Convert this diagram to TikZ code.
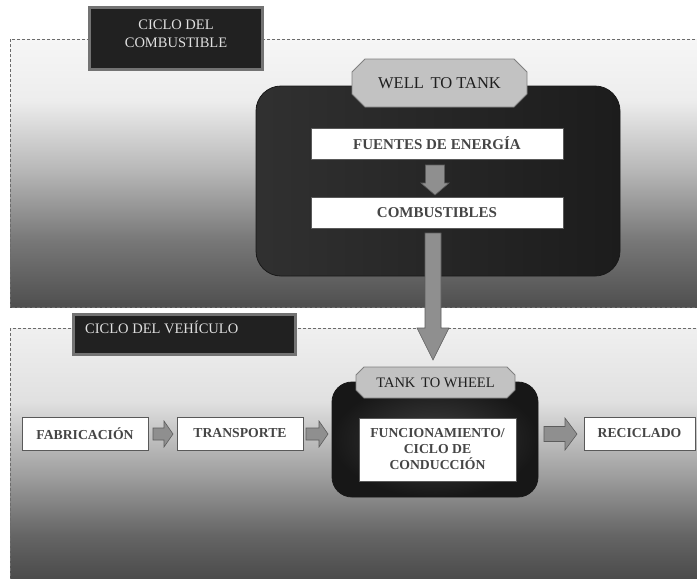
\documentclass[tikz,border=0pt]{standalone}
\usepackage{fontspec}
\setmainfont{Liberation Serif}
\usetikzlibrary{calc}
\pgfdeclarelayer{back}
\pgfdeclarelayer{mid}
\pgfdeclarelayer{upper}
\pgfsetlayers{back,mid,upper,main}

\definecolor{tpa}{gray}{0.965}
\definecolor{tpb}{gray}{0.93}
\definecolor{tpc}{gray}{0.72}
\definecolor{tpd}{gray}{0.47}
\definecolor{tpe}{gray}{0.31}
\definecolor{bpa}{gray}{0.94}
\definecolor{bpb}{gray}{0.88}
\definecolor{bpc}{gray}{0.63}
\definecolor{bpd}{gray}{0.40}
\definecolor{bpe}{gray}{0.28}
\pgfdeclareverticalshading{toppanel}{100bp}{color(0bp)=(tpe); color(25bp)=(tpe); color(37.5bp)=(tpd); color(50.6bp)=(tpc); color(63.6bp)=(tpb); color(75bp)=(tpa); color(100bp)=(tpa)}
\pgfdeclareverticalshading{botpanel}{100bp}{color(0bp)=(bpe); color(25bp)=(bpe); color(34.8bp)=(bpd); color(46.7bp)=(bpc); color(60.7bp)=(bpb); color(75bp)=(bpa); color(100bp)=(bpa)}

\definecolor{dashc}{gray}{0.42}
\definecolor{tagfill}{gray}{0.13}
\definecolor{tagborder}{gray}{0.45}
\definecolor{tagtextc}{gray}{0.88}
\definecolor{wtl}{gray}{0.19}
\definecolor{wtr}{gray}{0.11}
\definecolor{ttin}{gray}{0.25}
\definecolor{ttout}{gray}{0.09}
\definecolor{boxborder}{gray}{0.35}
\definecolor{boxtext}{gray}{0.27}
\definecolor{octfill}{gray}{0.76}
\definecolor{octborder}{gray}{0.50}
\definecolor{arrowfill}{gray}{0.56}
\definecolor{arrowborder}{gray}{0.36}

\tikzset{
  panel/.style={draw=dashc, line width=1pt, dash pattern=on 3pt off 2pt},
  tagbox/.style={draw=tagborder, line width=3pt, fill=tagfill, inner sep=0pt, outer sep=0pt},
  tagtext/.style={text=tagtextc, font=\fontsize{14.5}{18.5}\selectfont, inner sep=0pt, align=center},
  darkbox/.style={draw=black!90, line width=0.8pt, inner sep=0pt, outer sep=0pt},
  whitebox/.style={draw=boxborder, line width=0.8pt, fill=white, inner sep=0pt, outer sep=0pt,
    text=boxtext, align=center},
  bigtxt/.style={font=\bfseries\fontsize{15}{18}\selectfont},
  smalltxt/.style={font=\bfseries\fontsize{13.7}{16}\selectfont},
  octo/.style={fill=octfill, draw=octborder, line width=0.8pt},
  octlabel/.style={inner sep=0pt, outer sep=0pt, text=black!88},
  blockarrow/.style={fill=arrowfill, draw=arrowborder, line width=0.6pt},
}

% octagon (chamfered rectangle) around a named node
\newcommand\octaround[2]{%
  \path[octo] ($(#1.north west)+(#2,0)$) -- ($(#1.north east)+(-#2,0)$)
    -- ($(#1.north east)+(0,#2)$) -- ($(#1.south east)+(0,-#2)$)
    -- ($(#1.south east)+(-#2,0)$) -- ($(#1.south west)+(#2,0)$)
    -- ($(#1.south west)+(0,-#2)$) -- ($(#1.north west)+(0,#2)$) -- cycle;}
% horizontal block arrow: from #1 to #2, shaft half #3, head half #4, head length #5
\newcommand\hblock[5]{%
  \path[blockarrow] let \p1=#1, \p2=#2 in
    (\x1,\y1+#3) -- (\x2-#5,\y1+#3) -- (\x2-#5,\y1+#4) -- (\x2,\y1)
    -- (\x2-#5,\y1-#4) -- (\x2-#5,\y1-#3) -- (\x1,\y1-#3) -- cycle;}
% vertical (downward) block arrow
\newcommand\vblock[5]{%
  \path[blockarrow] let \p1=#1, \p2=#2 in
    (\x1-#3,\y1) -- (\x1+#3,\y1) -- (\x1+#3,\y2+#5) -- (\x1+#4,\y2+#5) -- (\x1,\y2)
    -- (\x1-#4,\y2+#5) -- (\x1-#3,\y2+#5) -- cycle;}

\begin{document}
\begin{tikzpicture}[x=1pt,y=-1pt]
\useasboundingbox (0,0) rectangle (697,579);

\begin{pgfonlayer}{back}
  \fill[white] (0,0) rectangle (697,579);
  \path[panel, shade, shading=toppanel] (10,39) rectangle (702,307);
  \path[panel, shade, shading=botpanel] (10,328) rectangle (702,584);
\end{pgfonlayer}

\begin{pgfonlayer}{mid}
  \node[darkbox, minimum width=364pt, minimum height=190pt, rounded corners=25pt,
        left color=wtl, right color=wtr] (wttbox) at (438,181) {};
  \node[darkbox, minimum width=206pt, minimum height=115pt, rounded corners=20pt,
        inner color=ttin, outer color=ttout] (ttwbox) at (435,439.5) {};
  \node[tagbox, minimum width=173pt, minimum height=62pt] (cicomb) at (176,38.5) {};
  \node[tagbox, minimum width=222pt, minimum height=40pt] (civeh) at (184.5,334.5) {};
\end{pgfonlayer}

% tag texts
\node[tagtext] (cicombt) at (176,34) {CICLO DEL\\COMBUSTIBLE};
\node[tagtext, anchor=base west] (civeht) at (85,333) {CICLO DEL VEHÍCULO};

% octagon labels
\node[octlabel, minimum width=175pt, minimum height=48pt,
      font=\fontsize{16.5}{20}\selectfont] (wtt) at (439.5,83) {WELL\hspace{0.4em}TO TANK};
\node[octlabel, minimum width=159pt, minimum height=31pt,
      font=\fontsize{14.5}{18}\selectfont] (ttw) at (435.5,382.5) {TANK\hspace{0.4em}TO WHEEL};
\begin{pgfonlayer}{upper}
  \octaround{wtt}{13}
  \octaround{ttw}{8}
\end{pgfonlayer}

% white boxes
\node[whitebox, bigtxt, minimum width=252pt, minimum height=31pt] (fuentes) at (437,143.5) {FUENTES DE ENERGÍA};
\node[whitebox, bigtxt, minimum width=252pt, minimum height=31pt] (comb) at (437,212.5) {COMBUSTIBLES};
\node[whitebox, smalltxt, minimum width=157pt, minimum height=63pt] (func) at (437.5,449.5) {FUNCIONAMIENTO/\\CICLO DE\\CONDUCCIÓN};
\node[whitebox, smalltxt, minimum width=126pt, minimum height=33pt] (fab) at (85,433.5) {FABRICACIÓN};
\node[whitebox, smalltxt, minimum width=126pt, minimum height=33pt] (trans) at (240,433.5) {TRANSPORTE};
\node[whitebox, smalltxt, minimum width=111pt, minimum height=33pt] (rec) at (639.5,433.5) {RECICLADO};

% block arrows
\vblock{($(fuentes.south)+(-2,6)$)}{($(comb.north)+(-2,-2)$)}{9.5pt}{14pt}{12pt}
\vblock{($(comb.south)+(-4,5)$)}{($(ttw.north)+(-4,-7)$)}{8pt}{16pt}{32pt}
\hblock{($(fab.east)+(5,0.5)$)}{($(trans.west)+(-4,0.5)$)}{6pt}{13pt}{9pt}
\hblock{($(trans.east)+(3,0.5)$)}{($(ttwbox.west)+(-4,-5.5)$)}{6pt}{13pt}{9pt}
\hblock{($(ttwbox.east)+(6,-5.5)$)}{($(rec.west)+(-7,0.5)$)}{7.5pt}{16pt}{12pt}
\end{tikzpicture}
\end{document}
